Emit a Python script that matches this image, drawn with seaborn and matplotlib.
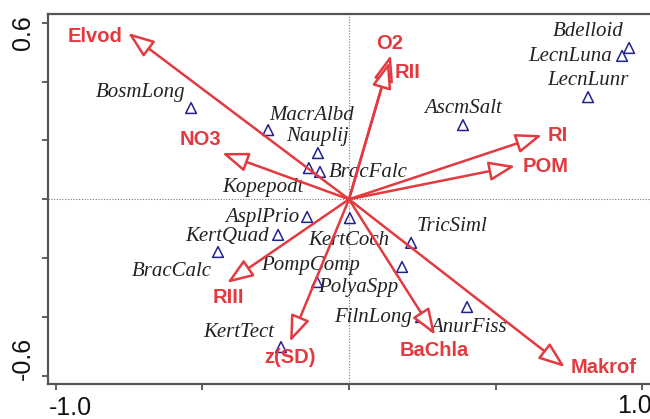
import numpy as np
import pandas as pd
import matplotlib
matplotlib.use("Agg")
import matplotlib.pyplot as plt
import seaborn as sns

# species scores (axis 1, axis 2)
species = ['BosmLong', 'MacrAlbd', 'Nauplij', 'Kopepodt', 'BracFalc', 'Bdelloid',
           'LecnLuna', 'LecnLunr', 'AscmSalt', 'AsplPrio', 'KertQuad', 'BracCalc',
           'KertCoch', 'PompComp', 'PolyaSpp', 'TricSiml', 'FilnLong', 'AnurFiss',
           'KertTect']
sp_x = [-0.539, -0.276, -0.106, -0.137, -0.099, 0.956, 0.932, 0.816, 0.389, -0.143,
        -0.242, -0.447, 0.003, -0.109, 0.181, 0.212, 0.246, 0.403, -0.232]
sp_y = [0.310, 0.235, 0.157, 0.106, 0.093, 0.514, 0.487, 0.347, 0.252, -0.060,
        -0.121, -0.179, -0.064, -0.281, -0.230, -0.148, -0.400, -0.366, -0.502]

# environmental variables (arrow tips)
env = ['Elvod', 'NO3', 'O2', 'RII', 'RI', 'POM', 'RIII', 'z(SD)', 'BaChla', 'Makrof']
env_x = [-0.754, -0.433, 0.143, 0.137, 0.659, 0.567, -0.416, -0.201, 0.294, 0.737]
env_y = [0.565, 0.157, 0.490, 0.466, 0.218, 0.113, -0.284, -0.484, -0.461, -0.570]

# label offsets in pixels (layout only)
sp_off = {'BosmLong': (-50, 16), 'MacrAlbd': (43, 15), 'Nauplij': (0, 17),
          'Kopepodt': (-46, -19), 'BracFalc': (48, -1), 'Bdelloid': (-41, 16),
          'LecnLuna': (-52, -1), 'LecnLunr': (0, 17), 'AscmSalt': (0, 17),
          'AsplPrio': (-45, -1), 'KertQuad': (-51, -2), 'BracCalc': (-46, -20),
          'KertCoch': (-1, -22), 'PompComp': (-7, 17), 'PolyaSpp': (-44, -20),
          'TricSiml': (41, 16), 'FilnLong': (-48, 0), 'AnurFiss': (1, -20),
          'KertTect': (-42, 15)}
env_off = {'Elvod': (-33, -4), 'NO3': (-22, 14), 'O2': (-1, 12), 'RII': (18, -10),
           'RI': (16, 0), 'POM': (30, 0), 'RIII': (1, -15), 'z(SD)': (0, -16),
           'BaChla': (-1, -15), 'Makrof': (39, 0)}

sp = pd.DataFrame({'name': species, 'x': sp_x, 'y': sp_y})
ev = pd.DataFrame({'name': env, 'x': env_x, 'y': env_y})

sns.set_theme(style='white')
red = '#e23a3f'
navy = '#22228f'

fig = plt.figure(figsize=(6.5, 4.19), dpi=100)
ax = fig.add_axes([48 / 650, 1 - 384 / 419, 602 / 650, 370 / 419])

ax.axhline(0, color='#777777', lw=0.8, ls=(0, (1, 1.5)), zorder=0)
ax.axvline(0, color='#777777', lw=0.8, ls=(0, (1, 1.5)), zorder=0)

sns.scatterplot(data=sp, x='x', y='y', marker='^', s=60, facecolor='none',
                edgecolor=navy, linewidth=1.1, ax=ax, zorder=3)

for _, r in sp.iterrows():
    dx, dy = sp_off[r['name']]
    ax.annotate(r['name'], (r['x'], r['y']), xytext=(dx, dy), textcoords='offset pixels',
                ha='center', va='center', fontsize=15, style='italic',
                family='Liberation Serif', color='#222222', zorder=4)

for _, r in ev.iterrows():
    ax.annotate('', xy=(r['x'], r['y']), xytext=(0, 0),
                arrowprops=dict(arrowstyle='-|>,head_length=1.6,head_width=0.6',
                                mutation_scale=10, color=red, fc='white', lw=1.8,
                                shrinkA=0, shrinkB=0), zorder=5)
    dx, dy = env_off[r['name']]
    ax.annotate(r['name'], (r['x'], r['y']), xytext=(dx, dy), textcoords='offset pixels',
                ha='center', va='center', fontsize=14.5, fontweight='bold',
                family='Liberation Sans', color=red, zorder=6)

ax.set_xlim(-1.0273, 1.0273)
ax.set_ylim(-0.6274, 0.6294)
ax.set_xticks([-1.0, -0.5, 0.0, 0.5, 1.0])
ax.set_yticks([-0.6, -0.4, -0.2, 0.0, 0.2, 0.4, 0.6])
ax.set_xticklabels([])
ax.set_yticklabels([])
ax.tick_params(direction='out', length=4, width=1.2, color='#444444',
               bottom=True, left=True)
ax.set_xlabel('')
ax.set_ylabel('')
for s in ['left', 'bottom', 'top']:
    ax.spines[s].set_color('#555555')
    ax.spines[s].set_linewidth(1.6)
ax.spines['right'].set_visible(False)

# axis end labels
tick_font = dict(fontsize=18, family='Liberation Sans', color='#111111')
ax.annotate('0.6', (0, 0.6), xycoords=ax.get_yaxis_transform(), xytext=(-25, -10),
            textcoords='offset pixels', rotation=90, ha='center', va='center', **tick_font)
ax.annotate('-0.6', (0, -0.6), xycoords=ax.get_yaxis_transform(), xytext=(-25, 17),
            textcoords='offset pixels', rotation=90, ha='center', va='center', **tick_font)
ax.annotate('-1.0', (-1.0, 0), xycoords=ax.get_xaxis_transform(), xytext=(14, -24),
            textcoords='offset pixels', ha='center', va='center', annotation_clip=False,
            **tick_font)
ax.annotate('1.0', (1.0, 0), xycoords=ax.get_xaxis_transform(), xytext=(-8, -22),
            textcoords='offset pixels', ha='center', va='center', annotation_clip=False,
            **tick_font)

fig.savefig('out.png', dpi=100)
